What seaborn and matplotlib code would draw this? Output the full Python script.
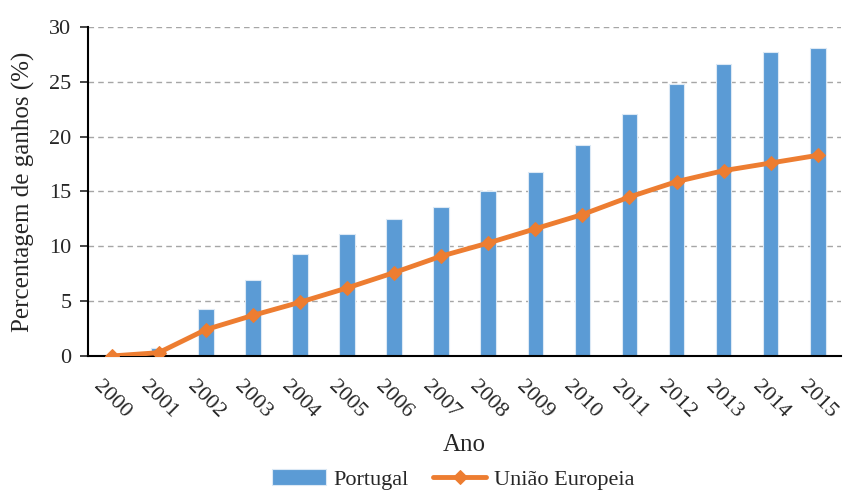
import numpy as np
import pandas as pd
import matplotlib
matplotlib.use("Agg")
import matplotlib.pyplot as plt
import seaborn as sns

years = ["2000", "2001", "2002", "2003", "2004", "2005", "2006", "2007",
         "2008", "2009", "2010", "2011", "2012", "2013", "2014", "2015"]
portugal = [0.0, 0.7, 4.3, 6.9, 9.3, 11.1, 12.5, 13.6,
            15.0, 16.8, 19.2, 22.1, 24.8, 26.6, 27.7, 28.1]
uniao_europeia = [0.0, 0.3, 2.4, 3.7, 4.9, 6.2, 7.6, 9.1,
                  10.3, 11.6, 12.9, 14.5, 15.9, 16.9, 17.6, 18.3]

BLUE = "#5B9BD5"
ORANGE = "#ED7D31"

sns.set_style("white")
plt.rcParams["font.family"] = ["Liberation Serif", "DejaVu Serif"]

df = pd.DataFrame({"Ano": years, "Portugal": portugal, "UE": uniao_europeia})
df["pos"] = np.arange(len(years))

fig = plt.figure(figsize=(8.58, 4.91), dpi=100)
ax = fig.add_axes([0.1026, 0.275, 0.878, 0.67])

sns.barplot(data=df, x="Ano", y="Portugal", color=BLUE, width=0.33,
            edgecolor="#dce9f5", linewidth=0.8, saturation=1,
            label="Portugal", ax=ax, zorder=2)
sns.lineplot(data=df, x="pos", y="UE", color=ORANGE, linewidth=3.5,
             marker="D", markersize=7, markeredgecolor=ORANGE,
             label="União Europeia", ax=ax, zorder=3)

ax.set_xlim(-0.5, len(years) - 0.5)
ax.set_ylim(0, 30)
ax.set_yticks(range(0, 31, 5))
ax.yaxis.grid(True, linestyle=(0, (4, 3)), color="#a6a6a6", linewidth=1)
ax.set_axisbelow(True)

for s in ["top", "right"]:
    ax.spines[s].set_visible(False)
for s in ["left", "bottom"]:
    ax.spines[s].set_color("black")
    ax.spines[s].set_linewidth(1.5)

ax.tick_params(axis="y", left=True, length=6, width=1.2, labelsize=16, pad=6)
ax.tick_params(axis="x", bottom=False, labelsize=16, pad=12)
plt.setp(ax.get_xticklabels(), rotation=-45, ha="center", va="top",
         rotation_mode="default")

ax.set_xlabel("Ano", fontsize=18, labelpad=8)
ax.set_ylabel("Percentagem de ganhos (%)", fontsize=18, labelpad=10)

# Portugal first, then the line, as in the original legend
handles, labels = ax.get_legend_handles_labels()
order = [labels.index("Portugal"), labels.index("União Europeia")]
ax.legend([handles[i] for i in order], [labels[i] for i in order],
          loc="center", bbox_to_anchor=(0.485, -0.375), ncol=2,
          frameon=False, fontsize=16, handlelength=2.4, columnspacing=1.1,
          handletextpad=0.35, borderaxespad=0)

fig.savefig("out.png", dpi=100)
